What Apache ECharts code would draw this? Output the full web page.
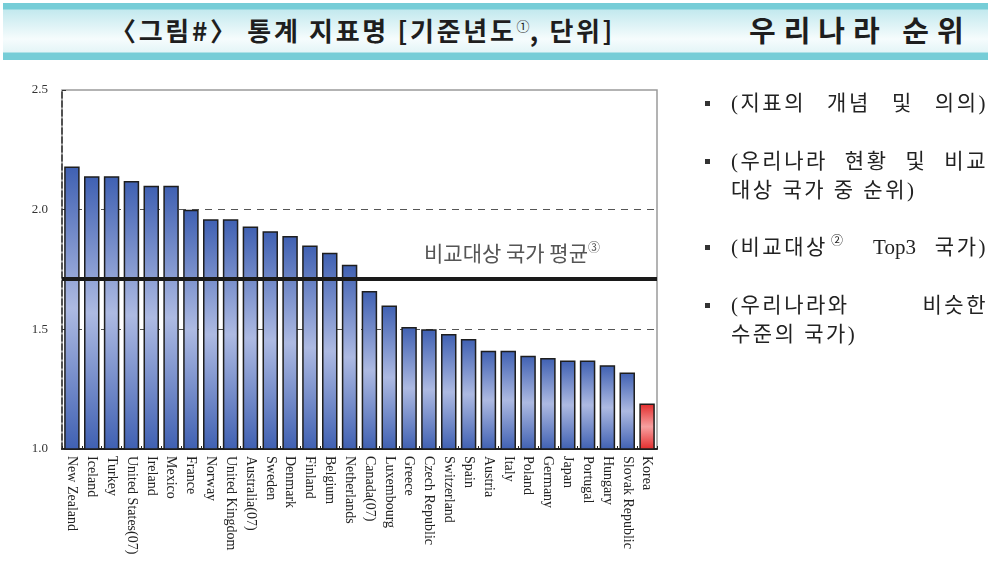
<!DOCTYPE html>
<html>
<head>
<meta charset="utf-8">
<script src="https://cdn.jsdelivr.net/npm/echarts@6/dist/echarts.min.js"></script>
<style>
  html, body { margin: 0; padding: 0; background: #fff; }
  #wrap { position: relative; width: 988px; height: 561px; overflow: hidden; }
  #head {
    position: absolute; left: 3px; top: 3px; width: 985px; height: 57px;
    background: linear-gradient(to bottom, #76cdd7 0, #76cdd7 6px, #c3e9ee 7px, #f6fcfd 36px, #e4f5f7 49px, #76cdd7 50px, #76cdd7 57px);
  }
  .ttl { position: absolute; top: 12px; font-family: "Noto Sans CJK KR"; font-weight: 700; font-size: 26px; line-height: 30px; color: #1e1e1e; white-space: nowrap; letter-spacing: 2.7px; }
  .ttl sup { font-size: 13px; font-weight: 400; vertical-align: 10px; line-height: 0; letter-spacing: 0; }
  #chart { position: absolute; left: 0; top: 0; width: 988px; height: 561px; }
  #side { position: absolute; left: 731px; top: 0; width: 257px; font-family: "Liberation Serif", "Noto Sans CJK KR"; font-size: 21px; color: #222; }
  .ln { position: absolute; left: 0; width: 257px; white-space: nowrap; line-height: 26px; letter-spacing: 2.5px; }
  .full { text-align: justify; text-align-last: justify; text-justify: inter-word; }
  .bul { position: absolute; left: -26px; top: 11px; width: 5px; height: 5px; background: #333; }
  .lat { letter-spacing: 0; }
  #side sup { font-size: 12px; vertical-align: 9px; line-height: 0; letter-spacing: 0; margin-left: -8px; }
</style>
</head>
<body>
<div id="wrap">
  <div id="head">
    <div class="ttl" style="left:107px;">〈그림#〉 통계 지표명 [기준년도<sup>①</sup>, 단위]</div>
    <div class="ttl" style="left:746px; top:11px; font-size:29px; letter-spacing:8px;">우리나라 순위</div>
  </div>
  <div id="chart"></div>
  <div id="side">
    <div class="ln full" style="top:90px;"><span class="bul"></span>(지표의 개념 및 의의)</div>
    <div class="ln full" style="top:148px;"><span class="bul"></span>(우리나라 현황 및 비교</div>
    <div class="ln" style="top:177px;">대상 국가 중 순위)</div>
    <div class="ln full" style="top:234px;"><span class="bul"></span>(비교대상<sup>②</sup> <span class="lat">Top3</span> 국가)</div>
    <div class="ln full" style="top:292px;"><span class="bul"></span>(우리나라와 비슷한</div>
    <div class="ln" style="top:321px;">수준의 국가)</div>
  </div>
</div>
<script>
// 국가별 값
const countries = ['New Zealand', 'Iceland', 'Turkey', 'United States(07)', 'Ireland', 'Mexico', 'France', 'Norway',
  'United Kingdom', 'Australia(07)', 'Sweden', 'Denmark', 'Finland', 'Belgium', 'Netherlands', 'Canada(07)',
  'Luxembourg', 'Greece', 'Czech Republic', 'Switzerland', 'Spain', 'Austria', 'Italy', 'Poland', 'Germany',
  'Japan', 'Portugal', 'Hungary', 'Slovak Republic', 'Korea'];
const values = [2.18, 2.14, 2.14, 2.12, 2.10, 2.10, 2.00, 1.96, 1.96, 1.93, 1.91, 1.89, 1.85, 1.82, 1.77, 1.66,
  1.60, 1.51, 1.50, 1.48, 1.46, 1.41, 1.41, 1.39, 1.38, 1.37, 1.37, 1.35, 1.32, 1.19];
const avgValue = 1.71;
const highlight = 'Korea';
const yMin = 1.0, yMax = 2.5, yStep = 0.5;

function grad(dark, light) {
  return new echarts.graphic.LinearGradient(0, 0, 0, 1, [
    { offset: 0, color: dark },
    { offset: 0.5, color: light },
    { offset: 1, color: dark }
  ]);
}
const blue = grad('#3f60b2', '#adbae2');
const red = grad('#e22a2a', '#f7a0a0');

const chart = echarts.init(document.getElementById('chart'));
chart.setOption({
  animation: false,
  grid: { left: 62, top: 90, width: 595, height: 359, show: true, borderColor: '#9a9a9a', borderWidth: 1.5, backgroundColor: 'transparent' },
  xAxis: {
    type: 'category',
    data: countries,
    axisLine: { lineStyle: { color: '#222', width: 2 } },
    axisTick: { show: true, inside: true, length: 3, lineStyle: { color: '#222' } },
    axisLabel: {
      interval: 0, rotate: -90, margin: 7,
      fontFamily: 'Liberation Serif', fontSize: 14, color: '#222'
    }
  },
  yAxis: {
    type: 'value',
    min: yMin, max: yMax, interval: yStep,
    axisLine: { show: true, lineStyle: { color: '#333', type: [6, 3], width: 1.5 } },
    axisTick: { show: true, inside: true, length: 4, lineStyle: { color: '#333' } },
    axisLabel: {
      margin: 14, fontFamily: 'Liberation Serif', fontSize: 13, color: '#333',
      formatter: v => v.toFixed(1)
    },
    splitLine: { show: true, showMinLine: false, showMaxLine: false, lineStyle: { color: '#555', type: [7, 6], width: 1 } }
  },
  series: [{
    type: 'bar',
    barWidth: '78%',
    data: values.map((v, i) => countries[i] === highlight ? { value: v, itemStyle: { color: red } } : v),
    itemStyle: { color: blue, borderColor: '#1e1e1e', borderWidth: 1.5 },
    markLine: {
      silent: true,
      symbol: 'none',
      lineStyle: { color: '#1a1a1a', width: 4, type: 'solid' },
      data: [{ yAxis: avgValue }],
      label: {
        position: 'insideEndTop',
        padding: [0, 52, 10, 0],
        formatter: '비교대상 국가 평균{s|③}',
        fontFamily: 'Noto Sans CJK KR', fontSize: 21, color: '#555',
        rich: { s: { fontSize: 12, color: '#555', verticalAlign: 'top', padding: [0, 0, 11, 0] } }
      }
    }
  }]
});
</script>
</body>
</html>
